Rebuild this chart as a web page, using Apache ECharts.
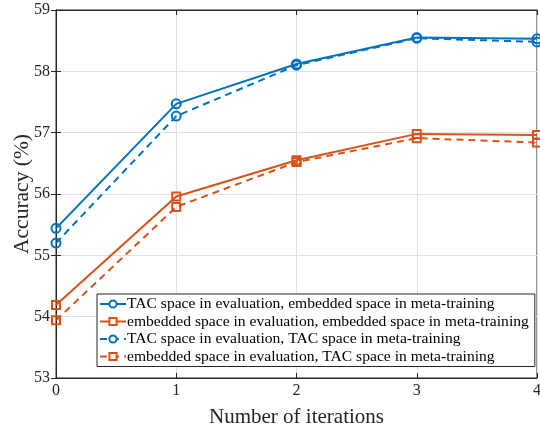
<!DOCTYPE html>
<html>
<head>
<meta charset="utf-8">
<script src="https://cdn.jsdelivr.net/npm/echarts@6/dist/echarts.min.js"></script>
<style>
  html, body { margin: 0; padding: 0; background: #fff; }
  #chart { width: 540px; height: 432px; }
</style>
</head>
<body>
<div id="chart"></div>
<script>
"use strict";

var iterations = [0, 1, 2, 3, 4];
var names = [
  "TAC space in evaluation, embedded space in meta-training",
  "embedded space in evaluation, embedded space in meta-training",
  "TAC space in evaluation, TAC space in meta-training",
  "embedded space in evaluation, TAC space in meta-training"
];
var tacEmb = [55.44, 57.47, 58.12, 58.55, 58.53];
var embEmb = [54.19, 55.96, 56.55, 56.98, 56.96];
var tacTac = [55.2, 57.27, 58.1, 58.54, 58.48];
var embTac = [53.94, 55.79, 56.52, 56.91, 56.84];

var blue = "#0072BD";
var orange = "#D95319";
var font = "Liberation Serif";

var chartDom = document.getElementById("chart");
var myChart = echarts.init(chartDom);

function pairs(vals) {
  return vals.map(function (v, i) { return [iterations[i], v]; });
}

function makeSeries(name, vals, color, symbol, dashed) {
  return {
    name: name,
    type: "line",
    data: pairs(vals),
    symbol: symbol,
    symbolSize: symbol === "circle" ? 9 : 8,
    showAllSymbol: true,
    lineStyle: { color: color, width: 2, type: dashed ? [7, 5] : "solid" },
    itemStyle: { color: "rgba(0,0,0,0)", borderColor: color, borderWidth: 2 },
    emphasis: { disabled: true },
    z: 3
  };
}

var option = {
  animation: false,
  grid: {
    left: 56, right: 3, top: 10, bottom: 54,
    outerBoundsMode: "none",
    show: true, borderColor: "#262626", borderWidth: 1
  },
  legend: {
    orient: "vertical",
    left: 97,
    top: 294,
    backgroundColor: "#fff",
    borderColor: "#262626",
    borderWidth: 1,
    borderRadius: 0,
    padding: [2, 6, 2, 2],
    itemGap: 1.5,
    itemWidth: 26,
    itemHeight: 9,
    textStyle: { fontFamily: font, fontSize: 15.6, color: "#000", padding: [0, 0, 0, -4] },
    data: names.map(function (n, i) {
      var c = i % 2 === 0 ? blue : orange;
      return { name: n, itemStyle: { color: "#fff", borderColor: c, borderWidth: 2 } };
    })
  },
  xAxis: [
    {
      type: "value",
      min: 0,
      max: 4,
      interval: 1,
      name: "Number of iterations",
      nameLocation: "middle",
      nameGap: 29,
      nameTextStyle: { fontFamily: font, fontSize: 21, color: "#262626" },
      axisLine: { lineStyle: { color: "#262626" } },
      axisTick: { inside: true, length: 5, lineStyle: { color: "#262626" } },
      axisLabel: { fontFamily: font, fontSize: 16, color: "#262626", margin: 5 },
      splitLine: { show: true, lineStyle: { color: "#e0e0e0" } }
    },
    {
      type: "value",
      position: "top",
      min: 0,
      max: 4,
      interval: 1,
      axisLine: { show: true, lineStyle: { color: "#262626" } },
      axisTick: { inside: true, length: 5, lineStyle: { color: "#262626" } },
      axisLabel: { show: false },
      splitLine: { show: false }
    }
  ],
  yAxis: [
    {
      type: "value",
      min: 53,
      max: 59,
      interval: 1,
      name: "Accuracy (%)",
      nameLocation: "middle",
      nameGap: 23,
      nameMoveOverlap: false,
      nameTextStyle: { fontFamily: font, fontSize: 21.5, color: "#262626" },
      axisLine: { show: true, lineStyle: { color: "#262626" } },
      axisTick: { show: true, inside: true, length: 5, lineStyle: { color: "#262626" } },
      axisLabel: { fontFamily: font, fontSize: 16, color: "#262626", margin: 6 },
      splitLine: { show: true, lineStyle: { color: "#e0e0e0" } }
    },
    {
      type: "value",
      position: "right",
      min: 53,
      max: 59,
      interval: 1,
      axisLine: { show: true, lineStyle: { color: "#262626" } },
      axisTick: { show: true, inside: true, length: 5, lineStyle: { color: "#262626" } },
      axisLabel: { show: false },
      splitLine: { show: false }
    }
  ],
  series: [
    makeSeries(names[0], tacEmb, blue, "circle", false),
    makeSeries(names[1], embEmb, orange, "rect", false),
    makeSeries(names[2], tacTac, blue, "circle", true),
    makeSeries(names[3], embTac, orange, "rect", true)
  ]
};

myChart.setOption(option);
window.onresize = function () {
  myChart.resize();
};
</script>
</body>
</html>
